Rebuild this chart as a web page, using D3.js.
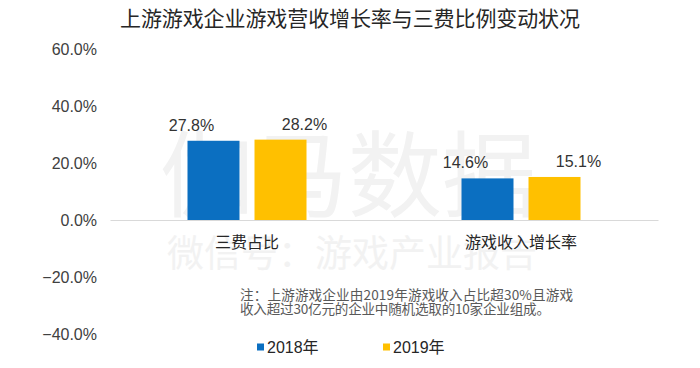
<!DOCTYPE html>
<html>
<head>
<meta charset="utf-8">
<script src="https://cdn.jsdelivr.net/npm/d3@7"></script>
<style>
  body { margin: 0; background: #fff; }
  svg { display: block; font-family: "Liberation Sans", Arial, "Noto Sans CJK SC", sans-serif; }
  .cjk { font-family: "Noto Sans CJK SC", "Liberation Sans", sans-serif; }
</style>
</head>
<body>
<svg id="chart" width="700" height="368"></svg>
<script>
// chart data
const categories = ["三费占比", "游戏收入增长率"];
const years = ["2018年", "2019年"];
const values2018 = [27.8, 14.6];
const values2019 = [28.2, 15.1];
const yTicks = [-40, -20, 0, 20, 40, 60];
const colors = ["#0B6FC1", "#FFC000"];

const title = "上游游戏企业游戏营收增长率与三费比例变动状况";
const note = [
  "注：上游游戏企业由2019年游戏收入占比超30%且游戏",
  "收入超过30亿元的企业中随机选取的10家企业组成。"
];

var svg = d3.select("#chart");

// watermark, drawn first so it sits behind everything
svg.append("text")
    .attr("class", "cjk")
    .attr("x", 348)
    .attr("y", 210)
    .attr("text-anchor", "middle")
    .style("font-size", "94px")
    .style("fill", "#f2f2f2")
    .text("伽马数据");

svg.append("text")
    .attr("class", "cjk")
    .attr("x", 352)
    .attr("y", 267)
    .attr("text-anchor", "middle")
    .style("font-size", "37px")
    .style("fill", "#f2f2f2")
    .text("微信号：游戏产业报告");

// title
svg.append("text")
    .attr("class", "cjk")
    .attr("x", 120)
    .attr("y", 26)
    .attr("textLength", 460)
    .attr("lengthAdjust", "spacing")
    .style("font-size", "21px")
    .style("fill", "#262626")
    .text(title);

var y = d3.scaleLinear()
    .domain([-40, 60])
    .range([334, 49]);

var x = d3.scaleBand()
    .domain(categories)
    .range([110, 658]);

var x1 = d3.scaleBand()
    .domain(years)
    .range([-59.5, 59.5])
    .paddingInner(0.224);

// y axis labels only
var yAxis = svg.append("g")
    .attr("transform", "translate(110,0)")
    .call(d3.axisLeft(y)
        .tickValues(yTicks)
        .tickSize(0)
        .tickPadding(13)
        .tickFormat(function(d) { return d3.format(".1f")(d) + "%"; }));
yAxis.select(".domain").remove();
yAxis.selectAll("text")
    .style("font-size", "16px")
    .style("fill", "#404040")
    .style("font-family", "'Liberation Sans', Arial, sans-serif");

// bars
var series = years.map(function(yr, i) {
  return { year: yr, color: colors[i], values: i === 0 ? values2018 : values2019 };
});

var group = svg.selectAll("g.series")
    .data(series)
  .enter().append("g")
    .attr("class", "series");

group.selectAll("rect")
    .data(function(s) {
      return categories.map(function(c, j) { return { cat: c, year: s.year, value: s.values[j], color: s.color }; });
    })
  .enter().append("rect")
    .attr("x", function(d) { return x(d.cat) + x.bandwidth() / 2 + x1(d.year); })
    .attr("y", function(d) { return y(Math.max(0, d.value)); })
    .attr("width", x1.bandwidth())
    .attr("height", function(d) { return Math.abs(y(d.value) - y(0)); })
    .style("fill", function(d) { return d.color; });

// value labels, pushed outward from the pair
group.selectAll("text.value")
    .data(function(s) {
      return categories.map(function(c, j) { return { cat: c, year: s.year, value: s.values[j] }; });
    })
  .enter().append("text")
    .attr("class", "value")
    .attr("x", function(d) {
      var shift = d.year === years[0] ? -22 : 24;
      return x(d.cat) + x.bandwidth() / 2 + x1(d.year) + x1.bandwidth() / 2 + shift;
    })
    .attr("y", function(d) { return y(d.value) - 10; })
    .attr("text-anchor", "middle")
    .style("font-size", "16px")
    .style("fill", "#333")
    .text(function(d) { return d.value.toFixed(1) + "%"; });

// zero line + category labels
var xAxis = svg.append("g")
    .attr("transform", "translate(0," + y(0) + ")")
    .call(d3.axisBottom(x).tickSize(0).tickPadding(17));
xAxis.select(".domain")
    .attr("stroke", "#d9d9d9")
    .attr("stroke-width", 1.2);
xAxis.selectAll("text")
    .attr("class", "cjk")
    .style("font-size", "16px")
    .style("fill", "#262626");

// note
svg.append("g").selectAll("text")
    .data(note)
  .enter().append("text")
    .attr("class", "cjk")
    .attr("x", 240)
    .attr("y", function(d, i) { return 300 + i * 14; })
    .attr("textLength", function(d, i) { return i === 0 ? 333 : 310; })
    .attr("lengthAdjust", "spacing")
    .style("font-size", "13.6px")
    .style("fill", "#595959")
    .text(function(d) { return d; });

// legend
var legendX = [257, 383];
var legend = svg.selectAll("g.legend")
    .data(series)
  .enter().append("g")
    .attr("class", "legend")
    .attr("transform", function(d, i) { return "translate(" + legendX[i] + ",347)"; });

legend.append("rect")
    .attr("x", 0)
    .attr("y", -3.5)
    .attr("width", 7)
    .attr("height", 7)
    .style("fill", function(d) { return d.color; });

legend.append("text")
    .attr("x", 10)
    .attr("y", 6)
    .style("font-size", "16px")
    .style("fill", "#262626")
    .text(function(d) { return d.year; });
</script>
</body>
</html>
